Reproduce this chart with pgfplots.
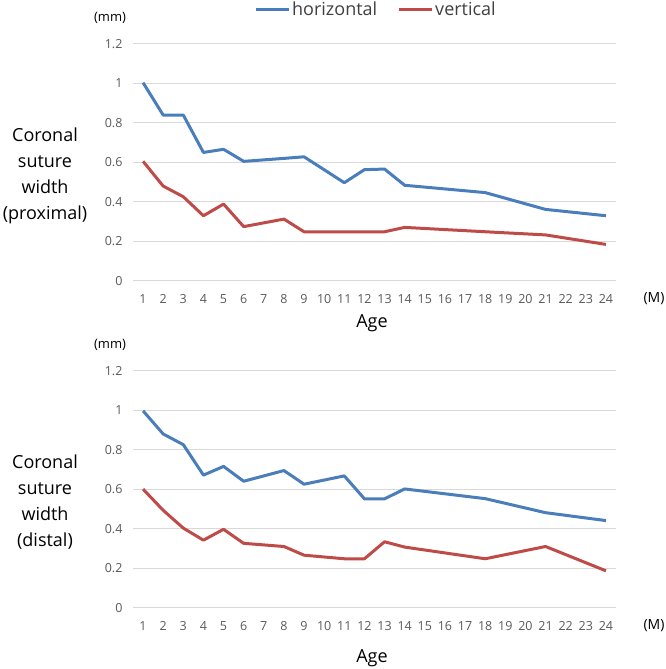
\documentclass[border=0pt]{standalone}
\usepackage{fontspec}
\setmainfont{Open Sans}
\usepackage{pgfplots}
\pgfplotsset{compat=1.18}
\definecolor{hblue}{HTML}{4A7EBB}
\definecolor{vred}{HTML}{BE4B48}
\definecolor{gridgray}{HTML}{D9D9D9}
\definecolor{tickgray}{HTML}{595959}
\definecolor{legtext}{HTML}{404040}
\pgfplotsset{
  panel/.style={
    anchor=south west, scale only axis, width=483pt, height=237.3pt,
    xmin=0.5, xmax=24.5, ymin=0, ymax=1.2,
    axis line style={draw=none}, major tick length=0pt,
    ymajorgrids, grid style={color=gridgray, line width=1pt},
    xtick={1,2,3,4,5,6,7,8,9,10,11,12,13,14,15,16,17,18,19,20,21,22,23,24},
    xticklabels={1,2,3,4,5,6,7,8,9,10,11,12,13,14,15,16,17,18,19,20,21,22,23,24},
    ytick={0,0.2,0.4,0.6,0.8,1,1.2},
    yticklabels={0,0.2,0.4,0.6,0.8,1,1.2},
    tick label style={font=\fontsize{12.5}{14}\selectfont, text=tickgray},
    yticklabel style={xshift=-7pt},
    xticklabel style={yshift=-10pt},
    clip=false,
  },
  hline/.style={color=hblue, line width=3pt, line join=round, no markers},
  vline/.style={color=vred, line width=3pt, line join=round, no markers},
}
\begin{document}
\begin{tikzpicture}
\useasboundingbox (0pt,0pt) rectangle (666pt,669pt);
% ---------- top panel ----------
\begin{axis}[panel, at={(133pt,388pt)},
  legend style={at={(0.503,1.146)}, anchor=center, draw=none, fill=none,
    legend columns=2, font=\fontsize{18}{20}\selectfont, text=legtext,
    /tikz/every even column/.append style={column sep=18pt}},
  legend image code/.code={\draw[#1] (0pt,0pt) -- (33pt,0pt);},
]
\addplot[hline] coordinates {(1,1.003) (2,0.839) (3,0.839) (4,0.650) (5,0.666) (6,0.605) (8,0.620) (9,0.628) (11,0.497) (12,0.563) (13,0.566) (14,0.484) (18,0.447) (21,0.362) (24,0.330)};
\addlegendentry{horizontal}
\addplot[vline] coordinates {(1,0.605) (2,0.480) (3,0.426) (4,0.330) (5,0.389) (6,0.275) (8,0.313) (9,0.249) (11,0.249) (12,0.249) (13,0.249) (14,0.271) (18,0.249) (21,0.233) (24,0.185)};
\addlegendentry{vertical}
\end{axis}
% ---------- bottom panel ----------
\begin{axis}[panel, at={(133pt,61pt)}]
\addplot[hline] coordinates {(1,0.997) (2,0.880) (3,0.826) (4,0.672) (5,0.716) (6,0.641) (8,0.695) (9,0.626) (11,0.668) (12,0.552) (13,0.552) (14,0.602) (18,0.553) (21,0.482) (24,0.442)};
\addplot[vline] coordinates {(1,0.601) (2,0.494) (3,0.404) (4,0.343) (5,0.398) (6,0.327) (8,0.311) (9,0.267) (11,0.249) (12,0.249) (13,0.335) (14,0.308) (18,0.249) (21,0.311) (24,0.188)};
\end{axis}
% ---------- labels ----------
\node[align=center, font=\fontsize{18}{26}\selectfont] at (45pt,493pt) {Coronal\\suture\\width\\(proximal)};
\node[align=center, font=\fontsize{18}{26}\selectfont] at (45pt,167pt) {Coronal\\suture\\width\\(distal)};
\node[font=\fontsize{13}{15}\selectfont] at (110pt,651pt) {(mm)};
\node[font=\fontsize{13}{15}\selectfont] at (110pt,324pt) {(mm)};
\node[font=\fontsize{14}{16}\selectfont] at (654pt,370pt) {(M)};
\node[font=\fontsize{14}{16}\selectfont] at (654pt,43pt) {(M)};
\node[font=\fontsize{18}{20}\selectfont] at (372pt,346pt) {Age};
\node[font=\fontsize{18}{20}\selectfont] at (372pt,11pt) {Age};
\end{tikzpicture}
\end{document}
